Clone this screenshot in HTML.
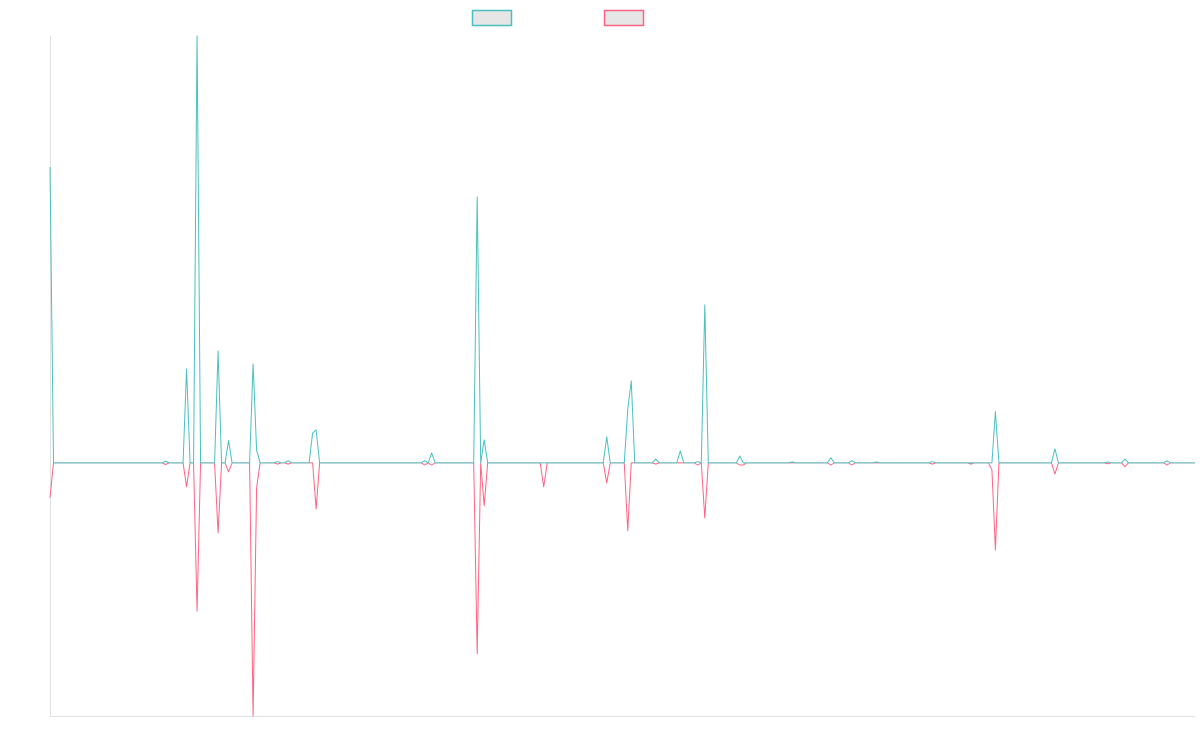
<!DOCTYPE html>
<html><head><meta charset="utf-8">
<style>
html,body{margin:0;padding:0;background:#fff;font-family:"Liberation Sans",sans-serif;}
svg{display:block;}
</style></head>
<body>
<svg id="chart" width="1200" height="750" xmlns="http://www.w3.org/2000/svg">
  <g>
    <rect x="472.5" y="10.5" width="39" height="15" fill="#e6e6e6" stroke="rgb(75,192,192)" stroke-width="1.5"/>
    <rect x="604.5" y="10.5" width="39" height="15" fill="#e6e6e6" stroke="rgb(255,99,132)" stroke-width="1.5"/>
  </g>
  <line x1="50.5" y1="36" x2="50.5" y2="716" stroke="#e0e0e0"/>
  <line x1="50" y1="716.5" x2="1195" y2="716.5" stroke="#e0e0e0"/>
  <g id="series"></g>
</svg>
<script>
const pointCount = 328;
const spikeIndex = [0,33,39,42,48,51,58,59,65,68,75,76,107,109,122,124,141,159,165,166,173,180,185,187,197,198,212,223,229,236,252,263,269,270,287,302,307,319];
const tealValues = [69.3,0.4,22,100,26.2,5.2,23.2,3,0.3,0.5,7,7.7,0.5,2.3,62.3,5.4,0,6.1,12.6,19.2,0.9,2.8,0.3,37,1.6,0,0.2,1.2,0.5,0.2,0.3,0,0,12,3.3,0.2,0.9,0.5];
const pinkValues = [-8.2,-0.4,-5.6,-34.7,-16.4,-2.1,-59.3,-5.9,-0.3,-0.3,0,-10.8,-0.5,-0.5,-44.7,-10,-5.6,-4.7,-15.9,0,-0.3,0,-0.5,-12.9,-0.5,-0.5,0,-0.5,-0.5,0,-0.3,-0.3,-1.6,-20.4,-2.6,-0.2,-0.9,-0.5];
const yMin = -59.3, yMax = 100;
const plotLeft = 50, plotRight = 1195, plotTop = 36, plotBottom = 716;

function xScale(i){ return plotLeft + i*(plotRight-plotLeft)/(pointCount-1); }
function yScale(v){ return plotTop + (yMax - v)*(plotBottom-plotTop)/(yMax-yMin); }

function buildSeries(vals){
  const s = new Array(pointCount).fill(0);
  spikeIndex.forEach((idx,k)=>{ s[idx] = vals[k]; });
  return s;
}
const tealSeries = buildSeries(tealValues);
const pinkSeries = buildSeries(pinkValues);
const seriesGroup = document.getElementById('series');
function draw(series, color, name){
  const d = series.map((v,i)=>(i?'L':'M')+xScale(i).toFixed(2)+' '+yScale(v).toFixed(2)).join(' ');
  const p = document.createElementNS('http://www.w3.org/2000/svg','path');
  p.setAttribute('d', d);
  p.setAttribute('fill','none');
  p.setAttribute('stroke', color);
  p.setAttribute('stroke-width','1');
  p.setAttribute('stroke-linejoin','round');
  
  
  seriesGroup.appendChild(p);
}
draw(pinkSeries,'rgb(255,99,132)','pink-series-line');
draw(tealSeries,'rgb(75,192,192)','teal-series-line');
</script>
</body></html>
